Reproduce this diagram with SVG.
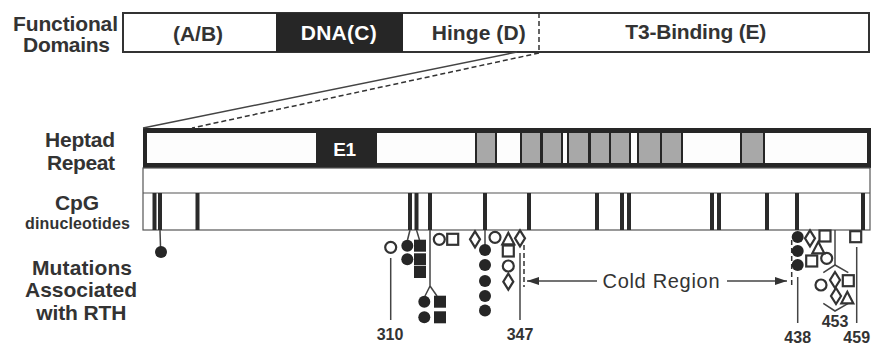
<svg xmlns="http://www.w3.org/2000/svg" width="873" height="345" viewBox="0 0 873 345">
<defs>
<style>
.lbl{font-family:"Liberation Sans",Arial,sans-serif;font-weight:bold;fill:#333;text-anchor:middle}
.big{font-size:21px}
.num{font-size:16px}
.wt{fill:#fff}
.box{fill:#fff;stroke:#333;stroke-width:2}
.dark{fill:#262626}
.gray{fill:#a8a8a8}
.wh{fill:#fdfdfd}
.bar{fill:#2a2a2a}
.thin{fill:none;stroke:#555;stroke-width:1.2}
.ln{stroke:#444;stroke-width:1.5;fill:none}
.dash{stroke:#333;stroke-width:1.5;stroke-dasharray:5 3;fill:none}
.open{fill:none;stroke:#333;stroke-width:2.2}
.fill{fill:#262626}
.cold{font-family:"Liberation Sans",Arial,sans-serif;font-size:20px;fill:#333;text-anchor:middle}
</style>
<circle id="fc" r="6" class="fill"/>
<rect id="fs" x="-6" y="-6" width="12" height="12" class="fill"/>
<circle id="oc" r="5.5" class="open"/>
<rect id="os" x="-5.5" y="-5.5" width="11" height="11" class="open"/>
<polygon id="od" points="0,-8 5,0 0,8 -5,0" class="open"/>
<polygon id="ot" points="0,-6.5 6,5 -6,5" class="open"/>
<marker id="ah" viewBox="0 0 12 8" refX="12" refY="4" markerWidth="12" markerHeight="8" markerUnits="userSpaceOnUse" orient="auto">
<path d="M0,0 L12,4 L0,8 Z" fill="#333"/>
</marker>
</defs>
<rect x="0" y="0" width="873" height="345" fill="#fff"/>

<g id="row-labels">
<text class="lbl big" x="65.5" y="30.5" textLength="105">Functional</text>
<text class="lbl big" x="66.5" y="52" textLength="87">Domains</text>
<text class="lbl big" x="80" y="147" textLength="70">Heptad</text>
<text class="lbl big" x="81" y="170" textLength="68">Repeat</text>
<text class="lbl big" x="77" y="210" textLength="44">CpG</text>
<text class="lbl" style="font-size:16px" x="77.5" y="229" textLength="105">dinucleotides</text>
<text class="lbl big" x="82" y="275" textLength="100">Mutations</text>
<text class="lbl big" x="81" y="297" textLength="112">Associated</text>
<text class="lbl big" x="81.3" y="320" textLength="90">with RTH</text>
</g>

<g id="functional-domains">
<rect class="box" x="123" y="13" width="746" height="39"/>
<rect class="dark" x="276" y="13" width="127" height="39"/>
<line class="dash" x1="539" y1="13" x2="539" y2="52"/>
<text class="lbl big" x="198" y="40.5" textLength="50">(A/B)</text>
<text class="lbl big wt" x="338.7" y="39.5" textLength="76">DNA(C)</text>
<text class="lbl big" x="478.7" y="39.5" textLength="94">Hinge (D)</text>
<text class="lbl big" x="695.8" y="39" textLength="141">T3-Binding (E)</text>
</g>

<g id="heptad-repeat">
<rect class="dark" x="143" y="128" width="728" height="40"/>
<rect class="wh" x="147" y="133" width="169" height="30"/>
<rect class="wh" x="377" y="133" width="98" height="30"/>
<rect class="gray" x="477" y="133" width="18" height="30"/>
<rect class="wh" x="497" y="133" width="23" height="30"/>
<rect class="gray" x="522" y="133" width="18" height="30"/>
<rect class="gray" x="543" y="133" width="18" height="30"/>
<rect class="wh" x="563" y="133" width="4" height="30"/>
<rect class="gray" x="569" y="133" width="19" height="30"/>
<rect class="gray" x="591" y="133" width="18" height="30"/>
<rect class="gray" x="611" y="133" width="18" height="30"/>
<rect class="wh" x="631" y="133" width="6" height="30"/>
<rect class="gray" x="639" y="133" width="21" height="30"/>
<rect class="gray" x="662" y="133" width="19" height="30"/>
<rect class="wh" x="683" y="133" width="57" height="30"/>
<rect class="gray" x="742" y="133" width="21" height="30"/>
<rect class="wh" x="765" y="133" width="102" height="30"/>
<text class="lbl wt" style="font-size:19px" x="344.7" y="155.5" textLength="23">E1</text>
</g>

<g id="cpg-dinucleotides">
<rect class="thin" x="143" y="168" width="727" height="62"/>
<line class="thin" x1="143" y1="193" x2="870" y2="193"/>
<g class="bar">
<rect x="152.5" y="193" width="4" height="37"/>
<rect x="158" y="193" width="4" height="37"/>
<rect x="195.5" y="193" width="4" height="37"/>
<rect x="408" y="193" width="4" height="37"/>
<rect x="414.5" y="193" width="4" height="37"/>
<rect x="428" y="193" width="4" height="37"/>
<rect x="483" y="193" width="4" height="37"/>
<rect x="527" y="193" width="4" height="37"/>
<rect x="595" y="193" width="4" height="37"/>
<rect x="620" y="193" width="4" height="37"/>
<rect x="627" y="193" width="4" height="37"/>
<rect x="710" y="193" width="4" height="37"/>
<rect x="717" y="193" width="4" height="37"/>
<rect x="765" y="193" width="4" height="37"/>
<rect x="795" y="193" width="4" height="37"/>
<rect x="861" y="193" width="4" height="37"/>
</g>
</g>

<g id="connectors">
<line class="ln" x1="517" y1="52" x2="143" y2="128"/>
<line class="dash" x1="539" y1="53" x2="192" y2="128"/>
<line class="ln" x1="160" y1="230" x2="160.5" y2="247"/>
<line class="ln" x1="410" y1="230" x2="407.5" y2="240"/>
<line class="ln" x1="416.5" y1="230" x2="419.5" y2="240"/>
<polyline class="ln" points="430,230 430,286 425,296"/>
<line class="ln" x1="430" y1="286" x2="437" y2="296"/>
<line class="ln" x1="485" y1="230" x2="485" y2="245"/>
<line class="ln" x1="390.7" y1="258" x2="390.7" y2="320"/>
<line class="ln" x1="520" y1="253" x2="520" y2="320"/>
<line class="dash" x1="524" y1="245" x2="524" y2="287"/>
<line class="dash" x1="791.7" y1="240" x2="791.7" y2="287"/>
<line class="ln" x1="797.7" y1="277" x2="797.7" y2="323"/>
<line class="ln" x1="835" y1="230" x2="835" y2="265"/>
<polyline class="ln" points="823.3,272.7 835,265 848.3,272.7"/>
<polyline class="ln" points="823.3,303.3 835,311 848.3,303.3"/>
<line class="ln" x1="856.7" y1="247" x2="856.7" y2="323"/>
<line class="ln" x1="597" y1="281" x2="527" y2="281" marker-end="url(#ah)"/>
<line class="ln" x1="727" y1="281" x2="787" y2="281" marker-end="url(#ah)"/>
</g>

<g id="cold-region">
<text class="cold" x="661" y="288" textLength="117">Cold Region</text>
</g>

<g id="mutations">
<use href="#fc" x="161" y="252"/>
<use href="#oc" x="390.7" y="247.3"/>
<use href="#fc" x="407.3" y="245.7"/>
<use href="#fc" x="407.3" y="259.3"/>
<use href="#fs" x="420" y="245.7"/>
<use href="#fs" x="420" y="259.3"/>
<use href="#fs" x="420" y="272"/>
<use href="#oc" x="439.3" y="239.3"/>
<use href="#os" x="452.7" y="239.3"/>
<use href="#fc" x="424.3" y="301.7"/>
<use href="#fc" x="424.3" y="317.3"/>
<use href="#fs" x="440" y="301.7"/>
<use href="#fs" x="440" y="317.3"/>
<use href="#od" x="475" y="239.3"/>
<use href="#fc" x="485" y="250"/>
<use href="#fc" x="485" y="265"/>
<use href="#fc" x="485" y="281"/>
<use href="#fc" x="485" y="296"/>
<use href="#fc" x="485" y="310.5"/>
<use href="#oc" x="495" y="237.3"/>
<use href="#ot" x="508.3" y="239.3"/>
<use href="#os" x="508.3" y="251"/>
<use href="#oc" x="508.3" y="266"/>
<use href="#od" x="508.3" y="281.7"/>
<use href="#od" x="520" y="238.3"/>
<use href="#fc" x="797.7" y="237"/>
<use href="#fc" x="797.7" y="251"/>
<use href="#fc" x="797.7" y="265"/>
<use href="#od" x="810" y="238.3"/>
<use href="#ot" x="818.3" y="248.3"/>
<use href="#os" x="811.7" y="261"/>
<use href="#oc" x="826.7" y="258.3"/>
<use href="#os" x="825" y="236"/>
<use href="#oc" x="821" y="285"/>
<use href="#od" x="835" y="280"/>
<use href="#os" x="848.3" y="280.7"/>
<use href="#od" x="836" y="296"/>
<use href="#ot" x="847.3" y="298.3"/>
<use href="#os" x="855.7" y="236.7"/>
</g>

<g id="codon-labels">
<text class="lbl num" x="390" y="340">310</text>
<text class="lbl num" x="520" y="340">347</text>
<text class="lbl num" x="797.7" y="343">438</text>
<text class="lbl num" x="835" y="327">453</text>
<text class="lbl num" x="856.7" y="343">459</text>
</g>
</svg>
